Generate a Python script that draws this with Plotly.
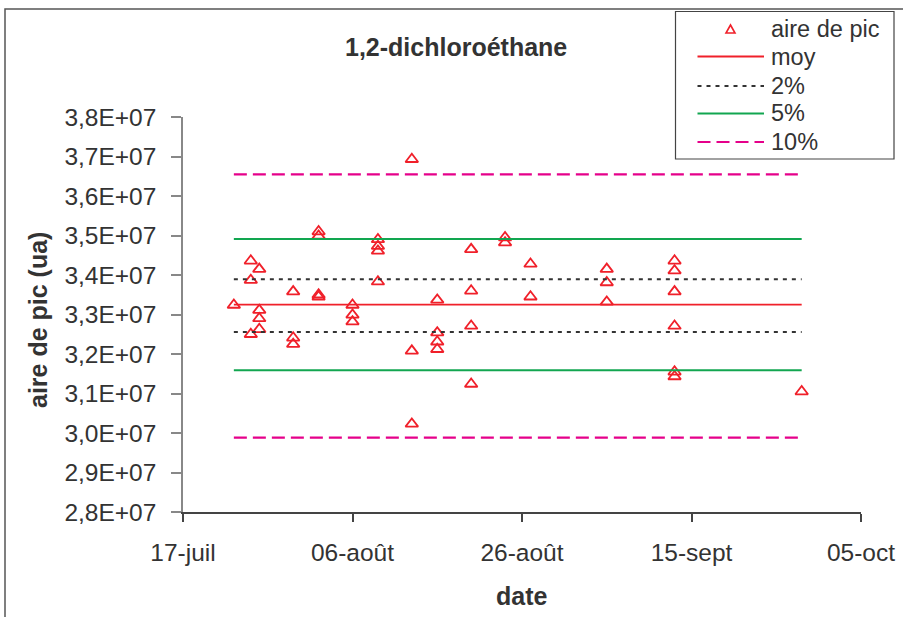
import plotly.graph_objects as go

# ---- data ----
dates = [
    "2007-07-23",
    "2007-07-25", "2007-07-25", "2007-07-25",
    "2007-07-26", "2007-07-26", "2007-07-26", "2007-07-26",
    "2007-07-30", "2007-07-30", "2007-07-30",
    "2007-08-02", "2007-08-02", "2007-08-02", "2007-08-02",
    "2007-08-06", "2007-08-06", "2007-08-06",
    "2007-08-09", "2007-08-09", "2007-08-09", "2007-08-09",
    "2007-08-13", "2007-08-13", "2007-08-13",
    "2007-08-16", "2007-08-16", "2007-08-16", "2007-08-16",
    "2007-08-20", "2007-08-20", "2007-08-20", "2007-08-20",
    "2007-08-24", "2007-08-24",
    "2007-08-27", "2007-08-27",
    "2007-09-05", "2007-09-05", "2007-09-05",
    "2007-09-13", "2007-09-13", "2007-09-13", "2007-09-13", "2007-09-13", "2007-09-13",
    "2007-09-28",
]
aire_de_pic = [
    3.324e7,
    3.436e7, 3.387e7, 3.250e7,
    3.415e7, 3.311e7, 3.290e7, 3.2625e7,
    3.358e7, 3.241e7, 3.225e7,
    3.510e7, 3.499e7, 3.350e7, 3.345e7,
    3.324e7, 3.299e7, 3.282e7,
    3.490e7, 3.473e7, 3.461e7, 3.383e7,
    3.693e7, 3.208e7, 3.023e7,
    3.337e7, 3.254e7, 3.231e7, 3.212e7,
    3.465e7, 3.360e7, 3.271e7, 3.124e7,
    3.495e7, 3.482e7,
    3.428e7, 3.345e7,
    3.415e7, 3.381e7, 3.332e7,
    3.436e7, 3.411e7, 3.358e7, 3.271e7, 3.155e7, 3.143e7,
    3.105e7,
]
line_dates = ["2007-07-23", "2007-09-28"]
moy = [3.325e7, 3.325e7]
p2_hi = [3.389e7, 3.389e7]
p2_lo = [3.256e7, 3.256e7]
p5_hi = [3.491e7, 3.491e7]
p5_lo = [3.159e7, 3.159e7]
p10_hi = [3.6545e7, 3.6545e7]
p10_lo = [2.9885e7, 2.9885e7]

x_tickvals = ["2007-07-17", "2007-08-06", "2007-08-26", "2007-09-15", "2007-10-05"]
x_ticktext = ["17-juil", "06-août", "26-août", "15-sept", "05-oct"]
y_tickvals = [2.8e7, 2.9e7, 3.0e7, 3.1e7, 3.2e7, 3.3e7, 3.4e7, 3.5e7, 3.6e7, 3.7e7, 3.8e7]
y_ticktext = ["2,8E+07", "2,9E+07", "3,0E+07", "3,1E+07", "3,2E+07", "3,3E+07",
              "3,4E+07", "3,5E+07", "3,6E+07", "3,7E+07", "3,8E+07"]
legend_names = ["aire de pic", "moy", "2%", "5%", "10%"]

FONT = "Liberation Sans, Arial, sans-serif"
TXT = "#333333"
RED = "#f0202a"
GREEN = "#12a650"
MAGENTA = "#e5008a"
DOT = "#333333"
DASH2 = "4px,5px"
DASH10 = "13px,6px"

fig = go.Figure()
fig.add_trace(go.Scatter(
    x=dates, y=aire_de_pic, mode="markers", name=legend_names[0], showlegend=False,
    marker=dict(symbol="triangle-up-open", size=11, color=RED, line=dict(width=1.8, color=RED)),
))
line_specs = [
    (legend_names[1], moy, dict(color=RED, width=1.8)),
    (legend_names[2], p2_hi, dict(color=DOT, width=2, dash=DASH2)),
    (legend_names[3], p5_hi, dict(color=GREEN, width=2)),
    (legend_names[4], p10_hi, dict(color=MAGENTA, width=2.2, dash=DASH10)),
    (legend_names[2], p2_lo, dict(color=DOT, width=2, dash=DASH2)),
    (legend_names[3], p5_lo, dict(color=GREEN, width=2)),
    (legend_names[4], p10_lo, dict(color=MAGENTA, width=2.2, dash=DASH10)),
]
for name, vals, ln in line_specs:
    fig.add_trace(go.Scatter(x=line_dates, y=vals, mode="lines", name=name,
                             showlegend=False, line=ln))

# plot area: x 183..861, y 117..512
L, R, T, B = 183, 42, 117, 105
W, H = 903, 617
pw, ph = W - L - R, H - T - B

def px_x(p):
    return (p - L) / pw

def px_y(p):
    return (H - B - p) / ph

# ---- hand-drawn legend box (matches reference geometry) ----
shapes = [
    dict(type="rect", xref="paper", yref="paper",
         x0=px_x(5), x1=px_x(960), y0=px_y(700), y1=px_y(9),
         line=dict(color="#555555", width=1.5), fillcolor="rgba(0,0,0,0)", layer="below"),
    dict(type="rect", xref="paper", yref="paper",
         x0=px_x(675.5), x1=px_x(894), y0=px_y(159), y1=px_y(11.5),
         line=dict(color="#444444", width=1.2), fillcolor="white", layer="above"),
]
leg_y = [29, 56.5, 86, 113.5, 142]
leg_lines = [None,
             dict(color=RED, width=1.8),
             dict(color=DOT, width=2, dash=DASH2),
             dict(color=GREEN, width=2),
             dict(color=MAGENTA, width=2.2, dash=DASH10)]
# triangle symbol
tx, ty, hw, hh = 730.5, leg_y[0], 4.5, 4.0
tri = "M {:.5f} {:.5f} L {:.5f} {:.5f} L {:.5f} {:.5f} Z".format(
    px_x(tx - hw), px_y(ty + hh), px_x(tx + hw), px_y(ty + hh), px_x(tx), px_y(ty - hh))
shapes.append(dict(type="path", xref="paper", yref="paper", path=tri,
                   line=dict(color=RED, width=1.6), fillcolor="rgba(0,0,0,0)", layer="above"))
for yy, ln in zip(leg_y, leg_lines):
    if ln is None:
        continue
    shapes.append(dict(type="line", xref="paper", yref="paper",
                       x0=px_x(697.5), x1=px_x(764), y0=px_y(yy), y1=px_y(yy),
                       line=ln, layer="above"))

annotations = [
    dict(text="<b>1,2-dichloroéthane</b>", x=px_x(456), y=px_y(47), xref="paper", yref="paper",
         showarrow=False, font=dict(size=25, family=FONT, color=TXT), xanchor="center", yanchor="middle"),
    dict(text="<b>aire de pic (ua)</b>", x=px_x(38), y=px_y(320), xref="paper", yref="paper",
         showarrow=False, textangle=-90, font=dict(size=25, family=FONT, color=TXT),
         xanchor="center", yanchor="middle"),
    dict(text="<b>date</b>", x=px_x(522), y=px_y(596), xref="paper", yref="paper",
         showarrow=False, font=dict(size=25, family=FONT, color=TXT), xanchor="center", yanchor="middle"),
]
for name, yy in zip(legend_names, leg_y):
    annotations.append(dict(text=name, x=px_x(769), y=px_y(yy), xref="paper", yref="paper",
                            showarrow=False, xanchor="left", yanchor="middle",
                            font=dict(size=23.5, family=FONT, color=TXT)))

fig.update_layout(
    width=W, height=H,
    margin=dict(l=L, r=R, t=T, b=B, autoexpand=False),
    paper_bgcolor="white", plot_bgcolor="white",
    font=dict(family=FONT, color=TXT, size=24),
    showlegend=False,
    annotations=annotations,
    shapes=shapes,
)
fig.update_xaxes(
    type="date", range=["2007-07-17", "2007-10-05"],
    tickmode="array", tickvals=x_tickvals, ticktext=x_ticktext,
    showgrid=False, zeroline=False, showline=True, linecolor="#444444", linewidth=1.5,
    ticks="outside", ticklen=8, tickcolor="#444444", tickwidth=1.5,
    tickfont=dict(size=24.5, family=FONT, color=TXT), ticklabelstandoff=10,
)
fig.update_yaxes(
    range=[2.8e7, 3.8e7],
    tickmode="array", tickvals=y_tickvals, ticktext=y_ticktext,
    showgrid=False, zeroline=False, showline=True, linecolor="#888888", linewidth=1.5,
    ticks="outside", ticklen=10, tickcolor="#888888", tickwidth=1.5,
    tickfont=dict(size=24.5, family=FONT, color=TXT), ticklabelstandoff=10,
)
fig.write_html("out.html")
